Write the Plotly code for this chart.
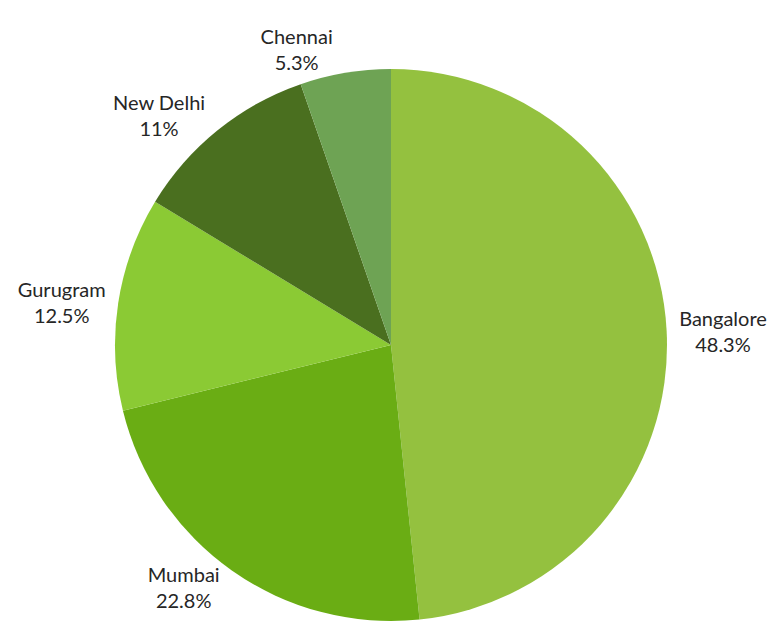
import plotly.graph_objects as go

cities = ["Bangalore", "Mumbai", "Gurugram", "New Delhi", "Chennai"]
shares = [48.3, 22.8, 12.5, 11, 5.3]
colors = ["#94c13f", "#6aad14", "#8bca34", "#4a6f1f", "#6ea354"]

fig = go.Figure(
    go.Pie(
        labels=cities,
        values=shares,
        sort=False,
        direction="clockwise",
        rotation=0,
        marker=dict(colors=colors, line=dict(width=0)),
        textposition="outside",
        texttemplate="%{label}<br>%{value}%",
        textfont=dict(family="Lato, sans-serif", size=20, color="#262626", weight=400),
        hoverinfo="label+value",
        showlegend=False,
    )
)

fig.update_layout(
    width=775,
    height=637,
    margin=dict(l=115, r=108, t=69, b=16),
    paper_bgcolor="white",
    plot_bgcolor="white",
)

fig.write_html("out.html")
